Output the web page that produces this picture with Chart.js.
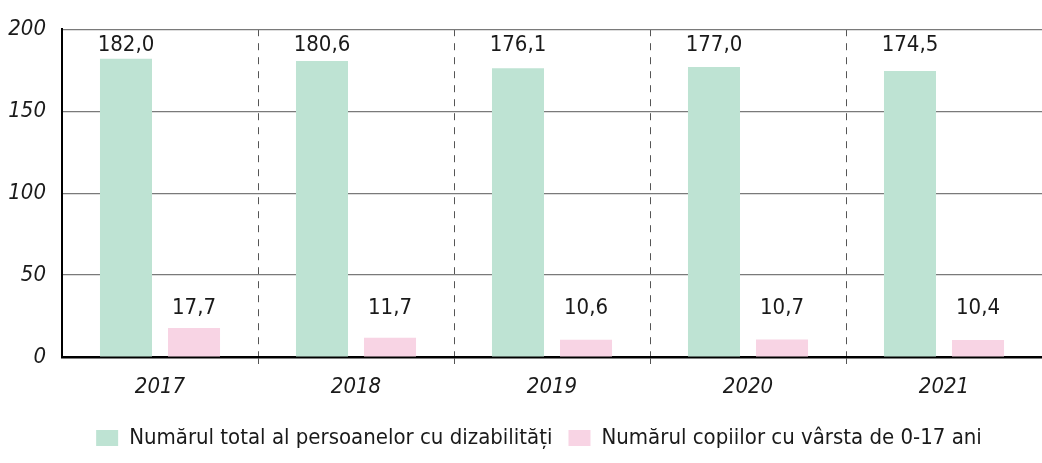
<!DOCTYPE html>
<html>
<head>
<meta charset="utf-8">
<script src="https://cdn.jsdelivr.net/npm/chart.js"></script>
<style>
  html, body { margin: 0; padding: 0; background: #fff; }
  #wrap { width: 1042px; height: 463px; }
</style>
</head>
<body>
<div id="wrap"><canvas id="chart" width="1042" height="463"></canvas></div>
<script>
// values
const years = ["2017", "2018", "2019", "2020", "2021"];
const totalPersons = [182.0, 180.6, 176.1, 177.0, 174.5];
const children = [17.7, 11.7, 10.6, 10.7, 10.4];
const yTicks = [0, 50, 100, 150, 200];

const seriesNames = [
    "Numărul total al persoanelor cu dizabilități",
    "Numărul copiilor cu vârsta de 0-17 ani"
];

const FONT = "'Liberation Sans Narrow', 'DejaVu Sans Condensed', 'Roboto', sans-serif";

// where the value labels sit (in axis units): greens up top, pinks low
const labelLevels = [190, 30];

const valueLabels = {
    id: "valueLabels",
    afterDatasetsDraw(chart) {
        const ctx = chart.ctx;
        const yScale = chart.scales.y;
        ctx.save();
        ctx.font = "22px " + FONT;
        ctx.fillStyle = "#1a1a1a";
        ctx.textAlign = "center";
        ctx.textBaseline = "middle";
        chart.data.datasets.forEach((ds, i) => {
            const meta = chart.getDatasetMeta(i);
            meta.data.forEach((bar, j) => {
                let txt = ds.data[j].toFixed(1).replace(".", ",");
                ctx.fillText(txt, bar.x, yScale.getPixelForValue(labelLevels[i]));
            });
        });
        ctx.restore();
    }
};

// legend in the original sits a little right of centre
const legendNudge = {
    id: "legendNudge",
    afterLayout(chart) {
        if (chart.legend) {
            chart.legend.left += 18;
            chart.legend.right += 18;
        }
    }
};

new Chart(document.getElementById("chart"), {
    type: "bar",
    data: {
        labels: years,
        datasets: [
            {
                label: seriesNames[0],
                data: totalPersons,
                backgroundColor: "#bee3d3"
            },
            {
                label: seriesNames[1],
                data: children,
                backgroundColor: "#f8d4e4"
            }
        ]
    },
    options: {
        responsive: false,
        animation: false,
        categoryPercentage: 0.694,
        barPercentage: 0.765,
        layout: {
            padding: { top: 28, right: 0, left: 0, bottom: 4 }
        },
        plugins: {
            legend: {
                position: "bottom",
                labels: {
                    boxWidth: 22,
                    boxHeight: 16,
                    padding: 16,
                    color: "#1a1a1a",
                    font: { family: FONT, size: 22 }
                }
            },
            tooltip: { enabled: false }
        },
        scales: {
            x: {
                grid: {
                    offset: true,
                    color: ctx => (ctx.index === 0 || ctx.index === years.length) ? "rgba(0,0,0,0)" : "#555",
                    lineWidth: 1,
                    tickLength: 7,
                    tickBorderDash: [7, 7]
                },
                border: {
                    display: true,
                    color: "#000",
                    width: 2.5,
                    dash: [7, 7]
                },
                ticks: {
                    color: "#1a1a1a",
                    padding: 10,
                    font: { family: FONT, size: 22, style: "italic" }
                },
                afterFit(scale) { scale.height = 54; }
            },
            y: {
                min: 0,
                max: 200,
                afterBuildTicks(scale) {
                    scale.ticks = yTicks.map(v => ({ value: v }));
                },
                grid: {
                    drawTicks: false,
                    color: ctx => ctx.tick && ctx.tick.value === 0 ? "rgba(0,0,0,0)" : "#7a7a7a",
                    lineWidth: 1.2
                },
                border: {
                    display: true,
                    color: "#000",
                    width: 2
                },
                ticks: {
                    color: "#1a1a1a",
                    padding: 16,
                    font: { family: FONT, size: 22, style: "italic" }
                },
                afterFit(scale) { scale.width = 62; }
            }
        }
    },
    plugins: [valueLabels, legendNudge]
});
</script>
</body>
</html>
